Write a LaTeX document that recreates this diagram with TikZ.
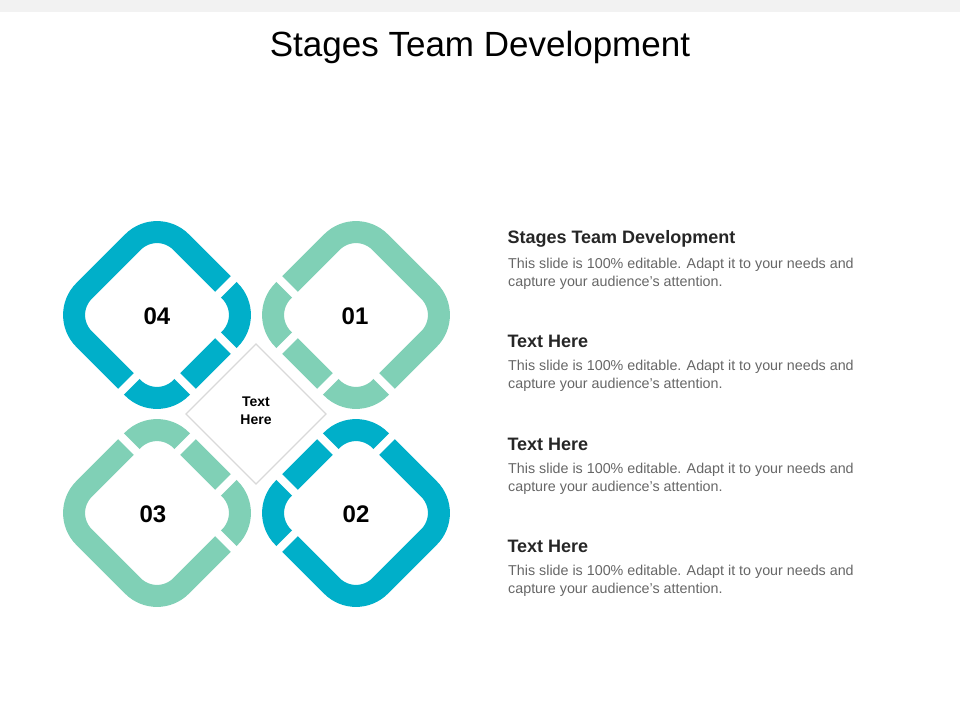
\documentclass[tikz,border=0pt]{standalone}
\usepackage{fontspec}
\setmainfont{Liberation Sans}
\usetikzlibrary{calc}
\definecolor{cblue}{HTML}{00AFC9}
\definecolor{cgreen}{HTML}{80D0B6}
\definecolor{bodygray}{HTML}{666666}
\begin{document}
\begin{tikzpicture}[x=1pt,y=-1pt,
  ring/.style={line width=22pt,rounded corners=34pt},
  gapline/.style={draw=white,line width=8pt},
  num/.style={font=\fontsize{24}{28}\selectfont\bfseries},
  head/.style={anchor=west,font=\fontsize{18}{21}\selectfont\bfseries,text=black!85},
  body/.style={anchor=north west,align=left,font=\fontsize{14.3}{18}\selectfont,text=bodygray,inner sep=0pt}]
\useasboundingbox (0,0) rectangle (960,720);
\fill[black!5] (0,0) rectangle (960,12);
\node[font=\fontsize{35}{40}\selectfont] (title) at (480,47) {Stages Team Development};
% rings
\def\d{97}
\foreach \nm/\cx/\cy/\col in {q4/157/315/cblue, q1/356/315/cgreen, q3/157/513/cgreen, q2/356/513/cblue}{
  \coordinate (\nm-r) at (\cx+\d,\cy);
  \coordinate (\nm-l) at (\cx-\d,\cy);
  \coordinate (\nm-t) at (\cx,\cy-\d);
  \coordinate (\nm-b) at (\cx,\cy+\d);
  \draw[ring,draw=\col] (\nm-t) -- (\nm-r) -- (\nm-b) -- (\nm-l) -- cycle;
}
\foreach \nm/\c/\o in {q4/r/t,q4/r/b,q4/b/r,q4/b/l,
                       q1/l/t,q1/l/b,q1/b/l,q1/b/r,
                       q3/r/t,q3/r/b,q3/t/r,q3/t/l,
                       q2/l/t,q2/l/b,q2/t/l,q2/t/r}{
  \coordinate (P) at ($(\nm-\c)!0.29!(\nm-\o)$);
  \draw[gapline] ($(P)!16pt!90:(\nm-\o)$) -- ($(P)!16pt!-90:(\nm-\o)$);
}
\node[num] (n4) at (157,316) {04};
\node[num] (n1) at (355,316) {01};
\node[num] (n3) at (153,514) {03};
\node[num] (n2) at (356,514) {02};
% center diamond
\draw[black!15,line width=1.2pt,fill=white] (256,344) -- (326,414) -- (256,484) -- (186,414) -- cycle;
\node[align=center,font=\fontsize{14}{18}\selectfont\bfseries] (ct) at (256,411) {Text\\Here};
% right texts
\foreach \i/\y/\h in {1/239/Stages Team Development,2/341/Text Here,3/444/Text Here,4/546/Text Here}{
  \node[head] (h\i) at (504,\y) {\h};
  \node[body] (b\i) at (508,\y+19) {This slide is 100\% editable. Adapt it to your needs and\\capture your audience's attention.};
}
\end{tikzpicture}
\end{document}
